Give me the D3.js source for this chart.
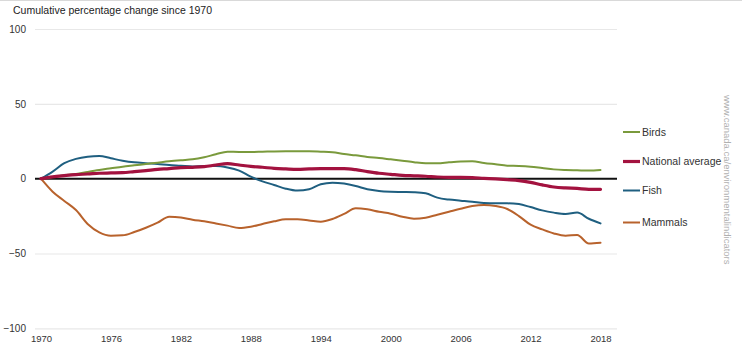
<!DOCTYPE html>
<html>
<head>
<meta charset="utf-8">
<script src="https://cdn.jsdelivr.net/npm/d3@7"></script>
<style>
  html, body { margin: 0; padding: 0; background: #fff; }
  svg { display: block; font-family: "Liberation Sans", Arial, sans-serif; }
</style>
</head>
<body>
<svg id="chart" width="742" height="357"></svg>
<script>
const years = d3.range(1970, 2019);
const birds = [0, 1.1, 2.2, 3.1, 4.5, 5.8, 6.9, 8, 8.9, 9.8, 10.7, 11.6, 12.3, 12.9, 14.3, 16.3, 18,
  17.8, 17.8, 18, 18.2, 18.3, 18.3, 18.3, 18, 17.6, 16.5, 15.6, 14.5, 13.8, 12.9, 12, 11,
  10.3, 10.3, 10.9, 11.4, 11.6, 10.5, 9.6, 8.7, 8.5, 8, 7.1, 6.2, 5.8, 5.6, 5.4, 5.8];
const nationalAverage = [0, 1.2, 2, 2.7, 3.1, 3.6, 3.8, 4, 4.7, 5.4, 6.2, 6.7, 7.4, 7.6, 8, 9.1, 10,
  9.1, 8.2, 7.6, 6.9, 6.5, 6.2, 6.5, 6.7, 6.7, 6.7, 6, 4.7, 3.6, 2.9, 2.2, 1.9,
  1.6, 1.1, 0.9, 0.9, 0.7, 0.2, -0.2, -0.7, -1.3, -2.5, -4.2, -5.6, -6.2, -6.5, -7.1, -7.1];
const fish = [0, 4.7, 10.3, 13.2, 14.7, 15.2, 13.6, 12, 10.9, 10.3, 9.8, 9.1, 8.7, 8.2, 8.5, 8.5, 7.5,
  5.4, 1.3, -1.8, -4.2, -6.7, -8, -7.1, -3.8, -2.7, -3.3, -4.9, -7.1, -8.2, -8.7, -8.9, -9.1,
  -9.8, -12.7, -14, -14.7, -15.4, -16.3, -16.5, -16.5, -17, -19, -21.2, -22.7, -23.6, -22.7, -26.8, -29.9];
const mammals = [0, -8.7, -14.9, -21, -30.3, -35.9, -38.1, -37.9, -35.7, -32.8, -29.4, -25.4, -25.9, -27.4, -28.5, -29.9, -31.4,
  -33, -32.1, -30.3, -28.5, -27.2, -27.2, -27.9, -28.8, -27, -23.6, -19.8, -20.5, -22.1, -23.4, -25.4, -26.8,
  -26.1, -24.1, -22.1, -20.1, -18.3, -17.6, -18.3, -20.3, -25, -30.8, -33.9, -36.6, -38.1, -37.7, -43.3, -42.8];
const yTicks = [100, 50, 0, -50, -100];
const xTicks = [1970, 1976, 1982, 1988, 1994, 2000, 2006, 2012, 2018];
const seriesNames = ["Birds", "National average", "Fish", "Mammals"];
const titleText = "Cumulative percentage change since 1970";
const sourceText = "www.canada.ca/environmentalindicators";

const series = [
  { name: seriesNames[0], values: birds, color: "#7a9a3c", width: 2 },
  { name: seriesNames[1], values: nationalAverage, color: "#a3123f", width: 3.2 },
  { name: seriesNames[2], values: fish, color: "#1f5f80", width: 2 },
  { name: seriesNames[3], values: mammals, color: "#b8622c", width: 2 }
];

const svg = d3.select("#chart");
const x = d3.scaleLinear().domain([1970, 2018]).range([41, 600.5]);
const y = d3.scaleLinear().domain([-100, 100]).range([328.3, 29]);
const gridX0 = 35, gridX1 = 617;

// top border
svg.append("line").attr("x1", 0).attr("x2", 742).attr("y1", 0.5).attr("y2", 0.5)
  .attr("stroke", "#d9d9d9").attr("stroke-width", 1);

// title
svg.append("text").attr("x", 13).attr("y", 14).attr("font-size", 10.5).attr("fill", "#222")
  .text(titleText);

// y gridlines + labels via axis
const yAxis = d3.axisLeft(y).tickValues(yTicks).tickSize(-(gridX1 - gridX0)).tickPadding(9)
  .tickFormat(d3.format("d"));
const gy = svg.append("g").attr("transform", `translate(${gridX0},0)`).call(yAxis);
gy.select(".domain").remove();
gy.selectAll(".tick line").attr("stroke", d => d === 0 ? "none" : "#e8e8e8").attr("stroke-width", 1.2);
gy.selectAll(".tick text").attr("font-size", 10).attr("fill", "#333")
  .attr("font-family", "'Liberation Sans', Arial, sans-serif");

// x axis labels
const xAxis = d3.axisBottom(x).tickValues(xTicks).tickSize(0).tickPadding(7).tickFormat(d3.format("d"));
const gx = svg.append("g").attr("transform", `translate(0,${y(-100)})`).call(xAxis);
gx.select(".domain").remove();
gx.selectAll(".tick text").attr("font-size", 9.5).attr("fill", "#333")
  .attr("font-family", "'Liberation Sans', Arial, sans-serif");

// zero line
svg.append("line").attr("x1", gridX0).attr("x2", gridX1).attr("y1", y(0)).attr("y2", y(0))
  .attr("stroke", "#111").attr("stroke-width", 2);

const line = d3.line().x((d, i) => x(years[i])).y(d => y(d)).curve(d3.curveMonotoneX);

// draw order: mammals, fish, birds, national on top
[series[3], series[2], series[0], series[1]].forEach(s => {
  svg.append("path").datum(s.values).attr("d", line)
    .attr("fill", "none").attr("stroke", s.color).attr("stroke-width", s.width)
    .attr("stroke-linejoin", "round").attr("stroke-linecap", "round");
});

// legend
const legendY = [132, 161.5, 190.5, 222.5];
series.forEach((s, i) => {
  const g = svg.append("g").attr("transform", `translate(623,${legendY[i]})`);
  g.append("line").attr("x1", 0).attr("x2", 17).attr("y1", 0).attr("y2", 0)
    .attr("stroke", s.color).attr("stroke-width", s.width);
  g.append("text").attr("x", 19).attr("y", 0).attr("dy", "0.35em").attr("font-size", 10.5)
    .attr("fill", "#333").text(s.name);
});

// vertical source text
svg.append("text").attr("transform", "translate(724,95) rotate(90)")
  .attr("font-size", 9.5).attr("fill", "#b0b0b0").text(sourceText);
</script>
</body>
</html>
